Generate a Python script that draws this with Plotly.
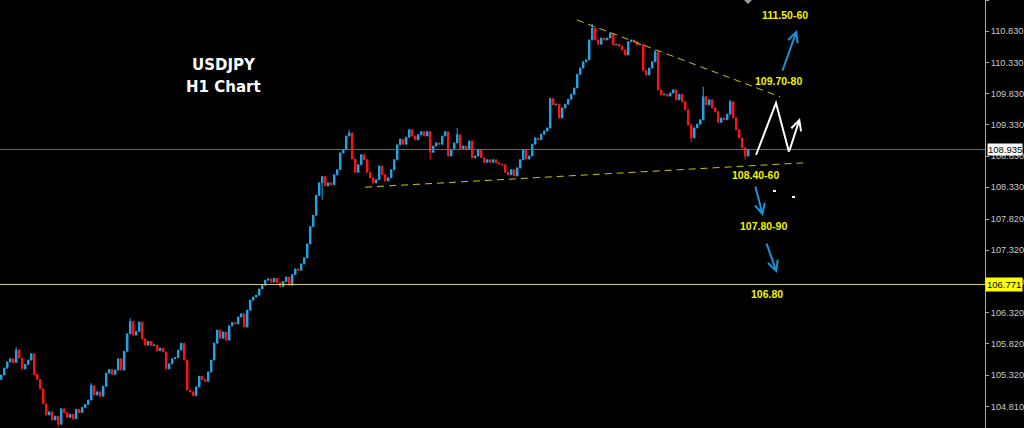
import plotly.graph_objects as go

# ---------------- data ----------------
closes = [
    # segment 1
    105.32, 105.43, 105.53, 105.58, 105.52, 105.72, 105.59, 105.42, 105.49, 105.56,
    105.66, 105.33, 105.25, 105.10, 104.86, 104.68, 104.73, 104.60, 104.66, 104.53,
    104.78, 104.72, 104.64, 104.69, 104.62, 104.77, 104.72, 104.80, 104.85, 104.92,
    105.15, 105.00, 105.05, 104.98, 105.14, 105.35, 105.41, 105.33, 105.40, 105.58,
    105.40, 105.70, 105.98, 106.18, 105.96, 106.02, 106.17, 105.90, 105.80, 105.86,
    105.79,
    # segment 2
    105.80, 105.71, 105.75, 105.69, 105.42, 105.50, 105.58, 105.60, 105.72, 105.83,
    105.56, 105.08, 105.05, 104.99, 105.13, 105.30, 105.25, 105.22, 105.37, 105.56,
    105.83, 106.04, 105.91, 106.01, 105.88, 106.11, 106.16, 106.14, 106.25, 106.30,
    106.09, 106.36, 106.52, 106.57, 106.60, 106.70, 106.76, 106.84, 106.86, 106.81,
    106.87, 106.80, 106.74, 106.82, 106.89, 106.76, 106.93, 107.02, 107.00, 107.10,
    107.20,
    # segment 3
    107.42, 107.70, 107.88, 108.20, 108.40, 108.50, 108.35, 108.40, 108.37, 108.53,
    108.61, 108.88, 108.93, 109.15, 109.20, 108.78, 108.57, 108.69, 108.85, 108.77,
    108.57, 108.48, 108.40, 108.45, 108.67, 108.53, 108.43, 108.48, 108.61, 108.77,
    109.01, 109.10, 109.02, 109.13, 109.25, 109.15, 109.09, 109.17, 109.22, 109.15,
    109.22, 108.89, 108.99, 109.04, 109.02, 109.15, 109.22, 108.83, 108.93, 109.04,
    109.17,
    # segment 4
    108.95, 108.99, 108.94, 109.07, 108.80, 108.83, 108.93, 108.80, 108.73, 108.77,
    108.73, 108.77, 108.72, 108.70, 108.69, 108.57, 108.53, 108.61, 108.51, 108.64,
    108.77, 108.93, 108.78, 108.83, 109.02, 109.12, 109.09, 109.18, 109.23, 109.28,
    109.75, 109.65, 109.66, 109.44, 109.60, 109.66, 109.74, 109.82, 109.92, 110.14,
    110.24, 110.34, 110.37, 110.69, 110.88, 110.69, 110.62, 110.72, 110.69, 110.72,
    # segment 5
    110.79, 110.61, 110.62, 110.59, 110.53, 110.45, 110.66, 110.69, 110.66, 110.61,
    110.62, 110.20, 110.13, 110.24, 110.34, 110.50, 109.89, 109.81, 109.82, 109.79,
    109.84, 109.89, 109.73, 109.82, 109.70, 109.57, 109.33, 109.12, 109.28, 109.34,
    109.41, 109.78, 109.65, 109.73, 109.60, 109.54, 109.37, 109.44, 109.41, 109.50,
    109.70, 109.44, 109.25, 109.12, 108.96, 108.83, 108.935,
]
first_open = 105.25
wick_highs = {5: 105.77, 30: 105.19, 43: 106.23, 116: 109.25, 152: 109.28,
              197: 110.95, 203: 110.82, 218: 110.53, 234: 109.94, 243: 109.73}
wick_lows = {19: 104.49, 107: 108.13, 143: 108.77, 230: 109.05, 248: 108.77}

current_price = 108.935
level_price = 106.771

tick_values = [111.33, 110.83, 110.33, 109.83, 109.33, 108.83, 108.33,
               107.82, 107.32, 106.82, 106.32, 105.82, 105.32, 104.81]
tick_labels = ["111.330", "110.830", "110.330", "109.830", "109.330", "108.830", "108.330",
               "107.820", "107.320", "106.820", "106.320", "105.820", "105.320", "104.810"]

# trendlines: (bar index, price)
trend_upper = [(191.9, 111.01), (259.6, 109.78)]
trend_lower = [(121.3, 108.33), (267.3, 108.72)]

target_labels = ["111.50-60", "109.70-80", "108.40-60", "107.80-90", "106.80"]

# ---------------- build OHLC ----------------
n = len(closes)
idx = list(range(n))
opens = [first_open] + closes[:-1]
highs = [max(o, c) for o, c in zip(opens, closes)]
lows = [min(o, c) for o, c in zip(opens, closes)]
for k, v in wick_highs.items():
    highs[k] = max(highs[k], v)
for k, v in wick_lows.items():
    lows[k] = min(lows[k], v)

W, H = 1024, 428
PLOT_W = 985

def P(px, py):
    return px / PLOT_W, 1 - py / H

fig = go.Figure()
fig.add_trace(go.Candlestick(
    x=idx, open=opens, high=highs, low=lows, close=closes,
    increasing=dict(line=dict(color="#22a6e8", width=1), fillcolor="#22a6e8"),
    decreasing=dict(line=dict(color="#ff1414", width=1), fillcolor="#ff1414"),
    whiskerwidth=0, hoverinfo="skip", showlegend=False,
))

shapes = []
# horizontal price lines
shapes.append(dict(type="line", xref="paper", yref="y", x0=0, x1=1,
                   y0=current_price, y1=current_price,
                   line=dict(color="#6c6c74", width=1)))
shapes.append(dict(type="line", xref="paper", yref="y", x0=0, x1=1,
                   y0=level_price, y1=level_price,
                   line=dict(color="#d2d27a", width=1)))
# trendlines
for tl in (trend_upper, trend_lower):
    shapes.append(dict(type="line", xref="x", yref="y",
                       x0=tl[0][0], y0=tl[0][1], x1=tl[1][0], y1=tl[1][1],
                       line=dict(color="#c8c800", width=1, dash="7px,5px")))
# white zigzag (first two legs)
z = [P(756, 155), P(776, 103), P(789, 152)]
shapes.append(dict(type="path", xref="paper", yref="paper",
                   path=f"M{z[0][0]},{z[0][1]} L{z[1][0]},{z[1][1]} L{z[2][0]},{z[2][1]}",
                   line=dict(color="#ffffff", width=2)))
# small white dashes
for (a, b) in [(773, 190), (792, 196)]:
    p0 = P(a, b); p1 = P(a + 3, b + 2)
    shapes.append(dict(type="rect", xref="paper", yref="paper",
                       x0=p0[0], y0=p0[1], x1=p1[0], y1=p1[1],
                       fillcolor="#ffffff", line=dict(width=0)))
# small gray marker at top
g = [P(744, 0), P(752, 0), P(748, 4)]
shapes.append(dict(type="path", xref="paper", yref="paper",
                   path=f"M{g[0][0]},{g[0][1]} L{g[1][0]},{g[1][1]} L{g[2][0]},{g[2][1]} Z",
                   fillcolor="#9a9aa0", line=dict(width=0)))

annotations = []
# price boxes on axis
annotations.append(dict(x=1, xref="paper", xanchor="left", xshift=2,
                        y=current_price, yref="y", text="108.935", showarrow=False,
                        bgcolor="#ffffff", borderpad=0,
                        font=dict(color="#000000", size=9.5, family="Liberation Sans")))
annotations.append(dict(x=1, xref="paper", xanchor="left", xshift=0,
                        y=level_price, yref="y", text="106.771", showarrow=False,
                        bgcolor="#ffff00", borderpad=1,
                        font=dict(color="#000000", size=9.5, family="Liberation Sans")))
# titles
for txt, (px, py) in [("USDJPY", (224, 65)), ("H1 Chart", (223, 87))]:
    x, y = P(px, py)
    annotations.append(dict(x=x, y=y, xref="paper", yref="paper", text=f"<b>{txt}</b>",
                            showarrow=False, xanchor="center", yanchor="middle",
                            font=dict(color="#ffffff", size=15, family="DejaVu Sans")))
# target labels
label_pos = [(785, 15), (778, 81), (755, 175), (763, 226), (767, 294)]
for txt, (px, py) in zip(target_labels, label_pos):
    x, y = P(px, py)
    annotations.append(dict(x=x, y=y, xref="paper", yref="paper", text=f"<b>{txt}</b>",
                            showarrow=False, xanchor="center", yanchor="middle",
                            font=dict(color="#f2f200", size=10.5, family="Liberation Sans")))
# arrows: (tail, head, color)
arrows = [((782, 72), (797, 30), "#1e94d8"),
          ((755, 185), (763, 216), "#1e94d8"),
          ((766, 242), (777, 273), "#1e94d8"),
          ((789, 152), (800, 118), "#ffffff")]
for (tx, ty), (hx, hy), col in arrows:
    x, y = P(hx, hy)
    annotations.append(dict(x=x, y=y, xref="paper", yref="paper", text="",
                            showarrow=True, ax=tx - hx, ay=ty - hy,
                            arrowhead=5, arrowsize=1.0, arrowwidth=2,
                            arrowcolor=col, standoff=0, startstandoff=0))

fig.update_layout(
    width=W, height=H,
    margin=dict(l=0, r=W - PLOT_W, t=0, b=0, autoexpand=False),
    paper_bgcolor="#000000", plot_bgcolor="#000000",
    shapes=shapes, annotations=annotations,
    showlegend=False,
    xaxis=dict(visible=False, range=[-0.4, -0.4 + PLOT_W / 3.0],
               rangeslider=dict(visible=False), fixedrange=True, automargin=False),
    yaxis=dict(side="right", range=[104.471, 111.330],
               tickvals=tick_values, ticktext=tick_labels,
               showgrid=False, zeroline=False, automargin=False,
               showline=True, linecolor="#a8a8a8", linewidth=1,
               ticks="outside", ticklen=3, tickcolor="#a8a8a8",
               ticklabelstandoff=0,
               tickfont=dict(color="#c8c8c8", size=9.2, family="Liberation Sans"),
               fixedrange=True),
)

fig.write_html(
    "out.html",
    config={"displayModeBar": False},
    post_script="document.body.style.margin='0';document.body.style.padding='0';"
                "document.body.style.background='#000';document.body.style.overflow='hidden';",
)
